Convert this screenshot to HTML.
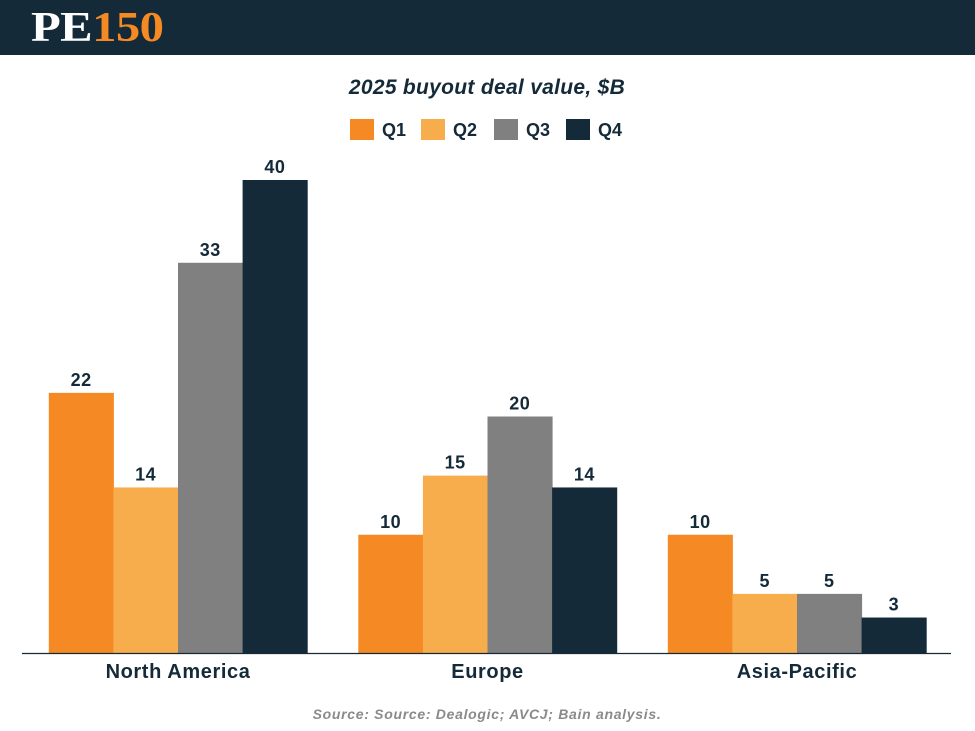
<!DOCTYPE html>
<html><head><meta charset="utf-8"><style>
body{margin:0;width:975px;height:731px;background:#fff;overflow:hidden;font-family:"Liberation Sans",sans-serif}
#hdr{position:absolute;left:0;top:0;width:975px;height:55px;background:#142a38}
#logo{position:absolute;left:31px;top:4px;font-family:"Liberation Serif",serif;font-weight:bold;font-size:42px;letter-spacing:-0.5px;transform:scaleX(1.16);transform-origin:0 0}
</style></head><body>
<div id="hdr"><div id="logo"><span style="color:#fff">PE</span><span style="color:#f58a25">150</span></div></div>
<svg id="chart" width="975" height="731" style="position:absolute;left:0;top:0">
<text x="487" y="94" text-anchor="middle" font-size="21" font-weight="bold" font-style="italic" letter-spacing="0.3" fill="#142a38">2025 buyout deal value, $B</text>
<g id="legend"></g><g id="bars"></g>
<line x1="22" y1="653.5" x2="951" y2="653.5" stroke="#142a38" stroke-width="1.2"/>
<text x="487" y="719" text-anchor="middle" font-size="14" font-weight="bold" font-style="italic" letter-spacing="0.7" fill="#8a8a8a">Source: Source: Dealogic; AVCJ; Bain analysis.</text>
</svg>
<script>
const categories=["North America","Europe","Asia-Pacific"];
const seriesNames=["Q1","Q2","Q3","Q4"];
const q1=[22,10,10];
const q2=[14,15,5];
const q3=[33,20,5];
const q4=[40,14,3];
const colors=["#f58a25","#f7ad4c","#808080","#142a38"];
const series=[q1,q2,q3,q4];
const NS="http://www.w3.org/2000/svg";
const base=653, top0=180, maxV=40;
const y=v=>base-(base-top0)*v/maxV;
const groupX=i=>178+309.5*i;
const bw=64.6;
const bars=document.getElementById('bars');
function mk(t,a){const e=document.createElementNS(NS,t);for(const k in a)e.setAttribute(k,a[k]);return e;}
categories.forEach((c,i)=>{
  series.forEach((s,j)=>{
    const x=groupX(i)-2*bw+j*bw;
    const r=mk('rect',{x:x,y:y(s[i]),width:bw+0.5,height:base-y(s[i]),fill:colors[j]});
    
    
    bars.appendChild(r);
    const t=mk('text',{x:x+bw/2,y:y(s[i])-7,'text-anchor':'middle','font-size':18,'font-weight':'bold','letter-spacing':0.5,fill:'#142a38'});
    t.textContent=s[i];
    
    
    bars.appendChild(t);
  });
  const l=mk('text',{x:groupX(i),y:678,'text-anchor':'middle','font-size':20,'font-weight':'bold','letter-spacing':0.6,fill:'#142a38'});
  l.textContent=c;
  
  
  bars.appendChild(l);
});
const lg=document.getElementById('legend');
const lx=[350,421,494,566];
seriesNames.forEach((n,j)=>{
  const r=mk('rect',{x:lx[j],y:119,width:24,height:21,fill:colors[j]});
  
  
  lg.appendChild(r);
  const t=mk('text',{x:lx[j]+32,y:136,'font-size':18,'font-weight':'bold',fill:'#142a38'});
  t.textContent=n;
  
  
  lg.appendChild(t);
});
</script>
</body></html>
